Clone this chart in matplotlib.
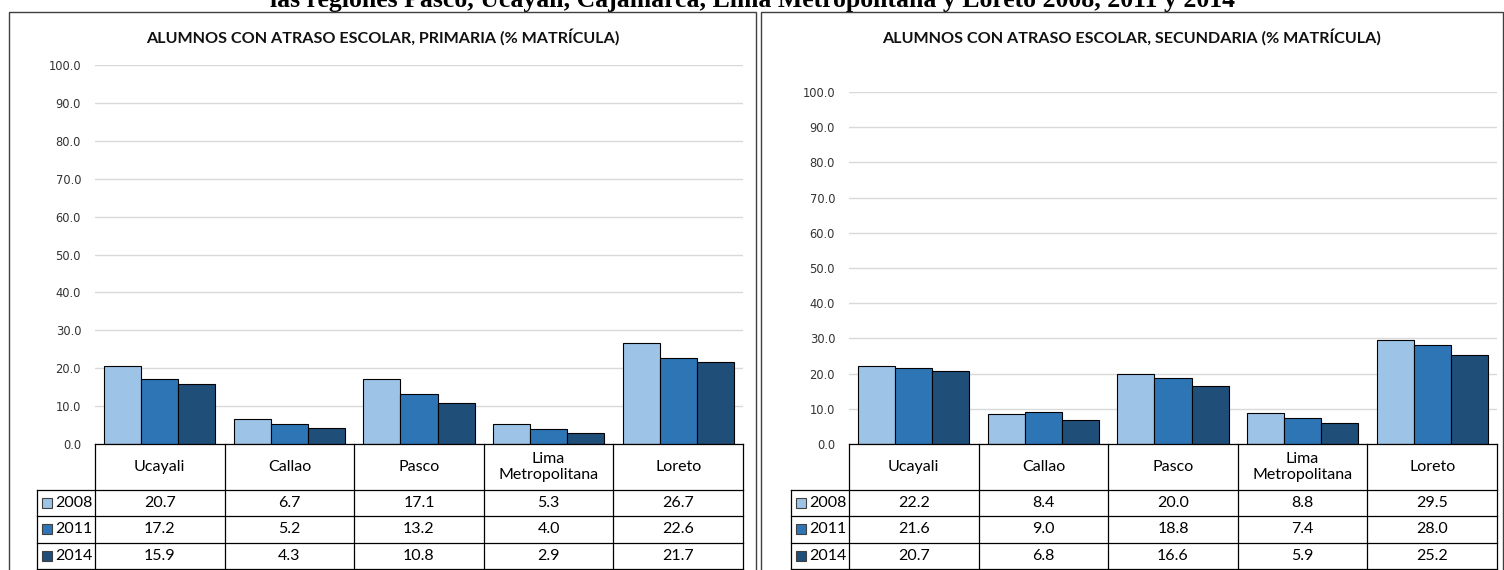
import matplotlib
matplotlib.use("Agg")
import matplotlib.pyplot as plt
from matplotlib.patches import Rectangle

W, H = 1504, 570

# data
regions = ["Ucayali", "Callao", "Pasco", "Lima\nMetropolitana", "Loreto"]
years = ["2008", "2011", "2014"]
primaria = [
    [20.7, 6.7, 17.1, 5.3, 26.7],
    [17.2, 5.2, 13.2, 4.0, 22.6],
    [15.9, 4.3, 10.8, 2.9, 21.7],
]
secundaria = [
    [22.2, 8.4, 20.0, 8.8, 29.5],
    [21.6, 9.0, 18.8, 7.4, 28.0],
    [20.7, 6.8, 16.6, 5.9, 25.2],
]
colors = ["#9DC3E6", "#2E75B6", "#1F4E79"]
yticks = [0, 10, 20, 30, 40, 50, 60, 70, 80, 90, 100]

header = "las regiones Pasco, Ucayali, Cajamarca, Lima Metropolitana y Loreto 2008, 2011 y 2014"
titles = ["ALUMNOS CON ATRASO ESCOLAR, PRIMARIA (% MATRÍCULA)",
          "ALUMNOS CON ATRASO ESCOLAR, SECUNDARIA (% MATRÍCULA)"]

fig = plt.figure(figsize=(W / 100, H / 100), dpi=100)


def ax_px(x0, y0, x1, y1):
    return fig.add_axes([x0 / W, 1 - y1 / H, (x1 - x0) / W, (y1 - y0) / H])


# overlay in pixel coords for borders and tables
over = ax_px(0, 0, W, H)
over.set_xlim(0, W)
over.set_ylim(H, 0)
over.axis("off")
over.set_zorder(5)

# heading of the page, cut off at the top like in the source
fig.text(752 / W, 1 - 7 / H, header, ha="center", va="baseline",
         family="Liberation Serif", weight="bold", fontsize=18.5)

panels = [
    dict(data=primaria, title=titles[0], bx0=9, bx1=756, px0=95, px1=743,
         ytop=65, ybot=444, legx=37),
    dict(data=secundaria, title=titles[1], bx0=761, bx1=1503, px0=849, px1=1497,
         ytop=92, ybot=444, legx=791),
]

row_top = 490
row_h = 26.3
fs = 11.5

for p in panels:
    # panel frame
    over.add_patch(Rectangle((p["bx0"], 12), p["bx1"] - p["bx0"], H + 10,
                             fill=False, edgecolor="#404040", lw=1.0, clip_on=False))
    over.text((p["bx0"] + p["bx1"]) / 2, 37, p["title"], ha="center", va="center",
              family="Lato", weight="bold", fontsize=11.6, color="#111111")

    ax = ax_px(p["px0"], p["ytop"], p["px1"], p["ybot"])
    n = len(regions)
    bw = 0.286
    for k, vals in enumerate(p["data"]):
        xs = [i + 0.5 + (k - 1) * bw for i in range(n)]
        ax.bar(xs, vals, width=bw, color=colors[k], edgecolor="black",
               linewidth=0.8, zorder=3)
    ax.set_xlim(0, n)
    ax.set_ylim(0, 100)
    ax.set_yticks(yticks)
    ax.set_yticklabels([f"{t:.1f}" for t in yticks], family="DejaVu Sans",
                       fontsize=8.3, color="#333333")
    ax.tick_params(axis="y", length=0, pad=10)
    ax.set_xticks([])
    ax.grid(axis="y", color="#D9D9D9", lw=1.0, zorder=0)
    for s in ax.spines.values():
        s.set_visible(False)

    # data table
    cw = (p["px1"] - p["px0"]) / n
    lx = p["legx"]
    x0, x1 = p["px0"], p["px1"]
    lc = "black"
    lw = 0.9
    over.plot([x0, x1], [p["ybot"], p["ybot"]], color=lc, lw=lw)
    for r in range(4):
        y = row_top + r * row_h
        over.plot([lx, x1], [y, y], color=lc, lw=lw)
    over.plot([lx, lx], [row_top, row_top + 3 * row_h], color=lc, lw=lw)
    for i in range(n + 1):
        x = x0 + i * cw
        over.plot([x, x], [p["ybot"], row_top + 3 * row_h], color=lc, lw=lw)
    for i, name in enumerate(regions):
        cx = x0 + (i + 0.5) * cw
        over.text(cx, (p["ybot"] + row_top) / 2, name, ha="center", va="center",
                  family="Lato", fontsize=fs, linespacing=1.1)
        for k in range(3):
            cy = row_top + (k + 0.5) * row_h
            over.text(cx, cy, f"{p['data'][k][i]:.1f}", ha="center", va="center",
                      family="Lato", fontsize=fs)
    for k, yr in enumerate(years):
        cy = row_top + (k + 0.5) * row_h
        over.add_patch(Rectangle((lx + 5, cy - 5), 10, 10, facecolor=colors[k],
                                 edgecolor="#404040", lw=0.8))
        over.text(lx + 18, cy, yr, ha="left", va="center", family="Lato",
                  fontsize=fs)

fig.savefig("out.png", dpi=100)
